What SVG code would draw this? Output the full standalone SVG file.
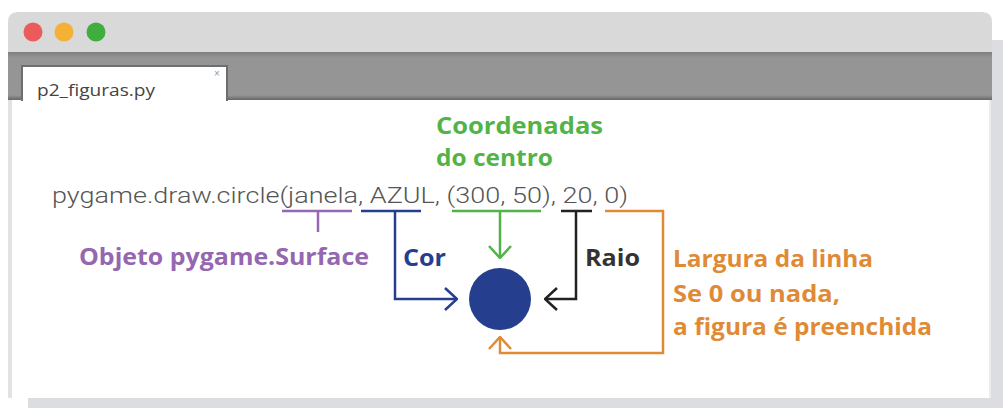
<svg xmlns="http://www.w3.org/2000/svg" width="1003" height="408" viewBox="0 0 1003 408">
<defs>
<style>
.lbl{font-family:"Open Sans","Liberation Sans",sans-serif;font-weight:700;font-size:23px}
.code{font-family:Roboto,"Liberation Sans",sans-serif;font-weight:300;font-size:22px;fill:#555}
.ln{fill:none;stroke-width:2.5}
</style>
<marker id="arB" viewBox="0 0 14 24" refX="13" refY="12" markerWidth="14" markerHeight="24" markerUnits="userSpaceOnUse" orient="auto"><path d="M1,1 L13,12 L1,23" fill="none" stroke="#253f8e" stroke-width="2.5"/></marker>
<marker id="arK" viewBox="0 0 14 24" refX="13" refY="12" markerWidth="14" markerHeight="24" markerUnits="userSpaceOnUse" orient="auto"><path d="M1,1 L13,12 L1,23" fill="none" stroke="#222" stroke-width="2.5"/></marker>
<marker id="arG" viewBox="0 0 14 24" refX="13" refY="12" markerWidth="14" markerHeight="24" markerUnits="userSpaceOnUse" orient="auto"><path d="M1,1 L13,12 L1,23" fill="none" stroke="#52b448" stroke-width="2.5"/></marker>
<marker id="arO" viewBox="0 0 14 24" refX="13" refY="12" markerWidth="14" markerHeight="24" markerUnits="userSpaceOnUse" orient="auto"><path d="M1,1 L13,12 L1,23" fill="none" stroke="#e08a36" stroke-width="2.5"/></marker>
<linearGradient id="tabbar" x1="0" y1="0" x2="0" y2="1"><stop offset="0" stop-color="#7f7f7f"/><stop offset="0.12" stop-color="#959595"/><stop offset="0.9" stop-color="#959595"/><stop offset="1" stop-color="#666"/></linearGradient>
</defs>
<rect width="1003" height="408" fill="#fff"/>
<g id="window">
<rect x="28" y="40" width="975" height="368" fill="#dcdde0"/>
<path d="M8,100 V22 Q8,12 18,12 H982 Q992,12 992,22 V100 Z" fill="#d9d9d9"/>
<rect x="8" y="52" width="984" height="48" fill="url(#tabbar)"/>
<rect x="8" y="100" width="983" height="298" fill="#fff"/>
<rect x="8" y="100" width="4" height="298" fill="#e2e2e2"/>
<rect x="989" y="100" width="2" height="298" fill="#ececec"/>
<path d="M22,101 V66 H227 V101" fill="#fff" stroke="#6e6e6e" stroke-width="2"/>
<circle cx="33" cy="32" r="9.5" fill="#ec5b5b"/>
<circle cx="64" cy="32" r="9.5" fill="#f5b136"/>
<circle cx="96" cy="32" r="9.5" fill="#3fae3f"/>
<text x="37" y="96" font-family="'Liberation Sans Narrow','Open Sans',sans-serif" font-size="17" fill="#444" textLength="118" lengthAdjust="spacingAndGlyphs">p2_figuras.py</text>
<text x="217" y="77" font-family="'Liberation Sans',sans-serif" font-size="10" fill="#999" text-anchor="middle">×</text>
</g>
<g id="code">
<text class="code" x="52" y="203" textLength="576" lengthAdjust="spacingAndGlyphs">pygame.draw.circle(janela, AZUL, (300, 50), 20, 0)</text>
</g>
<g id="connectors">
<path class="ln" stroke="#9467b0" d="M282,211 H352 M318,211 V232"/>
<path class="ln" stroke="#253f8e" d="M361,211 H421 M395,211 V299 H457" marker-end="url(#arB)"/>
<path class="ln" stroke="#52b448" d="M452,211 H541 M500,211 V258" marker-end="url(#arG)"/>
<path class="ln" stroke="#222" d="M561,211 H592 M576,211 V299 H545" marker-end="url(#arK)"/>
<path class="ln" stroke="#e08a36" d="M605,211 H663 V353 H500 V337" marker-end="url(#arO)"/>
</g>
<g id="circle">
<circle cx="500" cy="299" r="31" fill="#253f8e"/>
</g>
<g id="label-surface"><text class="lbl" x="79" y="265" fill="#9467b0" textLength="290" lengthAdjust="spacingAndGlyphs">Objeto pygame.Surface</text></g>
<g id="label-cor"><text class="lbl" x="403" y="266" fill="#253f8e" textLength="43" lengthAdjust="spacingAndGlyphs">Cor</text></g>
<g id="label-coord"><text class="lbl" fill="#52b448"><tspan x="436" y="134" textLength="167" lengthAdjust="spacingAndGlyphs">Coordenadas</tspan><tspan x="436" y="166" textLength="117" lengthAdjust="spacingAndGlyphs">do centro</tspan></text></g>
<g id="label-raio"><text class="lbl" x="585" y="266" fill="#333" textLength="55" lengthAdjust="spacingAndGlyphs">Raio</text></g>
<g id="label-largura"><text class="lbl" fill="#e08a36"><tspan x="673" y="267" textLength="200" lengthAdjust="spacingAndGlyphs">Largura da linha</tspan><tspan x="673" y="302" textLength="167" lengthAdjust="spacingAndGlyphs">Se 0 ou nada,</tspan><tspan x="673" y="335" textLength="259" lengthAdjust="spacingAndGlyphs">a figura é preenchida</tspan></text></g>
</svg>
